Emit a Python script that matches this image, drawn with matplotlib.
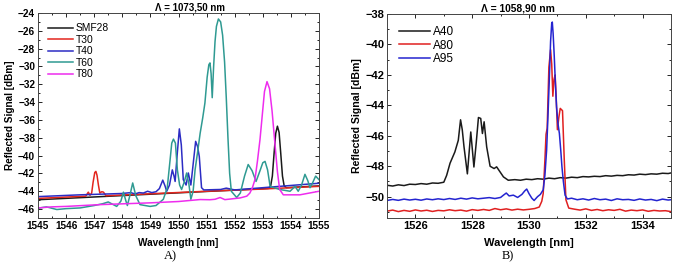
import matplotlib
matplotlib.use("Agg")
import matplotlib.pyplot as plt
from matplotlib.ticker import MultipleLocator

plt.rcParams.update({"font.family": ["Liberation Sans", "DejaVu Sans"]})

# ---- panel A: Lambda = 1073,50 nm ----
smf28_x = [1545.0, 1549.0, 1553.2, 1553.28, 1553.34, 1553.4, 1553.46, 1553.52, 1553.58,
           1553.64, 1553.7, 1553.76, 1553.84, 1555.0]
smf28_y = [-44.95, -44.33, -43.68, -43.4, -42.3, -39.8, -37.5, -36.7, -37.4,
           -39.8, -42.3, -43.4, -43.6, -43.4]

t30_x = [1545.0, 1546.0, 1546.7, 1546.79, 1546.85, 1546.91, 1546.96, 1547.02, 1547.06, 1547.1,
         1547.15, 1547.2, 1547.27, 1547.33, 1547.42, 1549.0, 1551.0, 1553.0, 1555.0]
t30_y = [-44.8, -44.65, -44.55, -44.1, -44.45, -44.2, -43.0, -41.9, -41.77, -42.2,
         -43.3, -44.2, -44.05, -44.1, -44.5, -44.28, -44.0, -43.75, -43.45]

t40_x = [1545.0, 1546.5, 1548.0, 1548.3, 1548.45, 1548.6, 1548.75, 1548.9, 1549.05, 1549.2,
         1549.32, 1549.44, 1549.52, 1549.58, 1549.68, 1549.78, 1549.84, 1549.88, 1549.95, 1550.03,
         1550.1, 1550.17, 1550.27, 1550.35, 1550.44, 1550.52, 1550.61, 1550.68, 1550.74, 1550.82,
         1550.9, 1551.5, 1551.7, 1552.0, 1553.0, 1554.0, 1555.0]
t40_y = [-44.6, -44.4, -44.25, -44.15, -44.3, -44.15, -44.2, -44.0, -44.15, -44.05,
         -43.7, -42.75, -43.4, -44.0, -43.3, -41.6, -42.3, -42.9, -40.0, -37.0,
         -38.8, -42.7, -43.3, -41.95, -43.3, -41.0, -38.4, -39.0, -40.1, -43.6,
         -43.85, -43.8, -43.65, -43.85, -43.6, -43.35, -43.1]

t60_x = [1545.0, 1545.3, 1545.67, 1546.0, 1546.5, 1547.0, 1547.3, 1547.5, 1547.8, 1547.95,
         1548.04, 1548.12, 1548.18, 1548.26, 1548.37, 1548.48, 1548.63, 1548.99, 1549.2, 1549.46,
         1549.6, 1549.7, 1549.76, 1549.82, 1549.89, 1549.96, 1550.04, 1550.11, 1550.2, 1550.29,
         1550.37, 1550.44, 1550.52, 1550.59, 1550.68, 1550.77, 1550.86, 1550.94, 1551.02, 1551.08,
         1551.12, 1551.16, 1551.2, 1551.25, 1551.3, 1551.35, 1551.42, 1551.5, 1551.57, 1551.64,
         1551.7, 1551.76, 1551.82, 1551.88, 1552.07, 1552.2, 1552.35, 1552.48, 1552.62, 1552.76,
         1552.9, 1553.0, 1553.08, 1553.17, 1553.26, 1553.6, 1553.97, 1554.15, 1554.26, 1554.38,
         1554.5, 1554.6, 1554.68, 1554.78, 1554.88, 1555.0]
t60_y = [-45.9, -45.75, -46.05, -45.95, -45.87, -45.6, -45.4, -45.2, -45.7, -45.1,
         -44.1, -45.0, -45.6, -44.6, -43.07, -44.5, -45.5, -45.7, -45.6, -44.9,
         -43.6, -40.5, -38.6, -38.15, -38.6, -41.6, -43.3, -43.8, -43.0, -41.95,
         -43.2, -44.9, -44.0, -41.6, -39.6, -37.5, -35.8, -34.1, -31.2, -29.8,
         -29.6, -30.8, -33.5, -30.0, -27.2, -25.5, -24.67, -25.0, -26.5, -29.5,
         -33.5, -38.0, -42.0, -44.0, -44.7, -44.2, -42.3, -41.0, -41.7, -42.9,
         -41.7, -40.8, -40.65, -41.6, -43.45, -43.8, -44.0, -43.45, -44.0, -43.3,
         -42.1, -42.8, -43.6, -43.0, -42.3, -42.7]

t80_x = [1545.0, 1545.5, 1546.0, 1547.2, 1549.0, 1550.0, 1550.77, 1551.12, 1551.3, 1551.48,
         1551.65, 1552.19, 1552.43, 1552.54, 1552.63, 1552.72, 1552.81, 1552.9, 1552.98, 1553.06,
         1553.15, 1553.24, 1553.33, 1553.43, 1553.52, 1553.6, 1553.73, 1554.32, 1555.0]
t80_y = [-45.87, -45.75, -45.7, -45.5, -45.3, -45.15, -44.93, -44.95, -44.9, -44.7,
         -44.94, -44.75, -44.55, -44.2, -43.6, -42.7, -40.6, -38.2, -35.5, -32.8,
         -31.7, -32.5, -35.0, -38.6, -41.8, -43.8, -44.4, -44.4, -44.0]

# ---- panel B: Lambda = 1058,90 nm ----
a40_x = [1525.0, 1525.2, 1525.4, 1525.6, 1525.8, 1526.0, 1526.2, 1526.4, 1526.6, 1526.8,
         1527.0, 1527.1, 1527.22, 1527.39, 1527.51, 1527.59, 1527.65, 1527.71, 1527.83, 1527.95,
         1528.06, 1528.14, 1528.22, 1528.3, 1528.36, 1528.42, 1528.51, 1528.63, 1528.77, 1528.86,
         1529.1, 1529.27, 1529.5, 1529.7, 1529.9, 1530.1, 1530.3, 1530.5, 1530.7, 1530.9,
         1531.1, 1531.3, 1531.5, 1531.7, 1531.9, 1532.1, 1532.3, 1532.5, 1532.7, 1532.9,
         1533.1, 1533.3, 1533.5, 1533.7, 1533.9, 1534.1, 1534.3, 1534.5, 1534.7, 1534.9, 1535.0]
a40_y = [-49.25, -49.3, -49.22, -49.27, -49.18, -49.2, -49.14, -49.18, -49.1, -49.12,
         -49.05, -48.6, -47.8, -47.06, -46.3, -44.95, -45.6, -46.7, -48.5, -45.75,
         -48.05, -46.5, -44.8, -44.86, -45.85, -45.08, -46.73, -48.0, -48.15, -48.04,
         -48.7, -48.92, -48.88, -48.92, -48.85, -48.88, -48.82, -48.85, -48.78, -48.82,
         -48.75, -48.78, -48.72, -48.75, -48.68, -48.7, -48.66, -48.68, -48.62, -48.65,
         -48.6, -48.62, -48.56, -48.58, -48.52, -48.55, -48.5, -48.52, -48.46, -48.48, -48.44]

a80_x = [1525.0, 1525.2, 1525.4, 1525.6, 1525.8, 1526.0, 1526.2, 1526.4, 1526.6, 1526.8,
         1527.0, 1527.2, 1527.4, 1527.6, 1527.8, 1528.0, 1528.2, 1528.4, 1528.6, 1528.8,
         1529.0, 1529.2, 1529.4, 1529.6, 1529.8, 1530.0, 1530.2, 1530.36, 1530.45, 1530.5,
         1530.56, 1530.6, 1530.64, 1530.7, 1530.76, 1530.8, 1530.84, 1530.88, 1530.92, 1530.96,
         1531.0, 1531.05, 1531.1, 1531.18, 1531.24, 1531.3, 1531.4, 1531.6, 1531.8, 1532.0,
         1532.2, 1532.4, 1532.6, 1532.8, 1533.0, 1533.2, 1533.4, 1533.6, 1533.8, 1534.0,
         1534.2, 1534.4, 1534.6, 1534.8, 1535.0]
a80_y = [-50.95, -50.88, -50.98, -50.9, -50.96, -50.87, -50.94, -50.89, -50.97, -50.9,
         -50.93, -50.86, -50.92, -50.88, -50.95, -50.85, -50.9, -50.84, -50.9, -50.78,
         -50.86, -50.8, -50.88, -50.82, -50.87, -50.83, -50.78, -50.68, -50.3, -49.8,
         -47.6, -45.9, -45.5, -41.5, -40.35, -41.3, -43.4, -42.3, -42.0, -43.6,
         -45.6, -44.8, -44.2, -44.35, -47.5, -50.2, -50.75, -50.82, -50.88, -50.8,
         -50.9, -50.84, -50.92, -50.86, -50.9, -50.83, -50.95, -50.88, -50.92, -50.87,
         -50.96, -50.9, -50.94, -50.92, -50.98]

a95_x = [1525.0, 1525.2, 1525.4, 1525.6, 1525.8, 1526.0, 1526.2, 1526.4, 1526.6, 1526.8,
         1527.0, 1527.2, 1527.4, 1527.6, 1527.8, 1528.0, 1528.2, 1528.4, 1528.6, 1528.8,
         1529.0, 1529.1, 1529.2, 1529.3, 1529.45, 1529.6, 1529.75, 1529.85, 1529.92, 1530.0,
         1530.1, 1530.18, 1530.3, 1530.4, 1530.5, 1530.56, 1530.62, 1530.67, 1530.71, 1530.76,
         1530.8, 1530.82, 1530.85, 1530.89, 1530.93, 1530.97, 1531.02, 1531.07, 1531.12, 1531.16,
         1531.21, 1531.27, 1531.35, 1531.5, 1531.7, 1531.9, 1532.1, 1532.3, 1532.5, 1532.7,
         1532.9, 1533.1, 1533.3, 1533.5, 1533.7, 1533.9, 1534.1, 1534.3, 1534.5, 1534.7,
         1534.9, 1535.0]
a95_y = [-50.25, -50.18, -50.24, -50.16, -50.22, -50.17, -50.23, -50.15, -50.2, -50.14,
         -50.19, -50.12, -50.18, -50.1, -50.16, -50.08, -50.14, -50.1, -50.06, -50.12,
         -50.05, -49.9, -49.76, -49.95, -49.9, -50.05, -49.85, -49.62, -49.5, -49.8,
         -50.1, -50.25, -50.0, -49.85, -49.55, -48.6, -46.95, -44.6, -42.56, -39.8,
         -38.6, -38.53, -39.3, -40.8, -42.6, -44.1, -45.2, -45.85, -47.0, -48.04,
         -49.0, -49.9, -50.15, -50.1, -50.2, -50.14, -50.22, -50.12, -50.2, -50.16,
         -50.25, -50.14, -50.2, -50.18, -50.24, -50.15, -50.22, -50.18, -50.26, -50.16,
         -50.22, -50.2]

fig = plt.figure(figsize=(6.75, 2.62), dpi=100)
ax1 = fig.add_axes([38 / 675, 44 / 262, 281 / 675, 205 / 262])
ax2 = fig.add_axes([387 / 675, 44 / 262, 284 / 675, 204 / 262])

lw = 1.1
ax1.plot(smf28_x, smf28_y, color="#1a1a1a", lw=lw, label="SMF28")
ax1.plot(t30_x, t30_y, color="#e3261e", lw=lw, label="T30")
ax1.plot(t40_x, t40_y, color="#2c2cc4", lw=lw, label="T40")
ax1.plot(t60_x, t60_y, color="#2f9a92", lw=lw, label="T60")
ax1.plot(t80_x, t80_y, color="#ee2cee", lw=lw, label="T80")

ax2.plot(a40_x, a40_y, color="#1a1a1a", lw=lw, label="A40")
ax2.plot(a80_x, a80_y, color="#e02020", lw=lw, label="A80")
ax2.plot(a95_x, a95_y, color="#2424d0", lw=lw, label="A95")

ax1.set_xlim(1545, 1555); ax1.set_ylim(-47, -24)
ax1.xaxis.set_major_locator(MultipleLocator(1)); ax1.xaxis.set_minor_locator(MultipleLocator(0.5))
ax1.yaxis.set_major_locator(MultipleLocator(2)); ax1.yaxis.set_minor_locator(MultipleLocator(1))
ax2.set_xlim(1525, 1535); ax2.set_ylim(-51.4, -38)
ax2.xaxis.set_major_locator(MultipleLocator(2)); ax2.xaxis.set_minor_locator(MultipleLocator(1))
ax2.yaxis.set_major_locator(MultipleLocator(2)); ax2.yaxis.set_minor_locator(MultipleLocator(1))

for ax, fs, yfs, lfs, hl in [(ax1, 7.2, 7.2, 7.4, 2.4), (ax2, 8, 7.6, 8.5, 2.6)]:
    ax.tick_params(which="both", direction="in", top=True, right=True, width=0.6, pad=2,
                   labelsize=fs)
    ax.tick_params(which="major", length=3)
    ax.tick_params(which="minor", length=1.6)
    for lab in ax.get_xticklabels() + ax.get_yticklabels():
        lab.set_fontweight("bold")
    for s in ax.spines.values():
        s.set_linewidth(0.7); s.set_color("#444444")
    ax.set_xlabel("Wavelength [nm]", fontsize=fs, fontweight="bold", labelpad=5)
    ax.set_ylabel("Reflected Signal [dBm]", fontsize=yfs, fontweight="bold", labelpad=2)
    ax.legend(loc="upper left", frameon=False, fontsize=lfs, handlelength=hl,
              handletextpad=0.3, labelspacing=0.15, borderaxespad=0.6)

ax1.set_title("\u039b = 1073,50 nm", fontsize=7, fontweight="bold", pad=1.5, x=0.54)
ax2.set_title("\u039b = 1058,90 nm", fontsize=7.4, fontweight="bold", pad=1.5, x=0.46)

fig.text(170 / 675, 1 - 250 / 262, "A)", family=["Liberation Serif", "DejaVu Serif"],
         fontsize=9, ha="center", va="top")
fig.text(508 / 675, 1 - 250 / 262, "B)", family=["Liberation Serif", "DejaVu Serif"],
         fontsize=9, ha="center", va="top")

fig.savefig("out.png", dpi=100)
